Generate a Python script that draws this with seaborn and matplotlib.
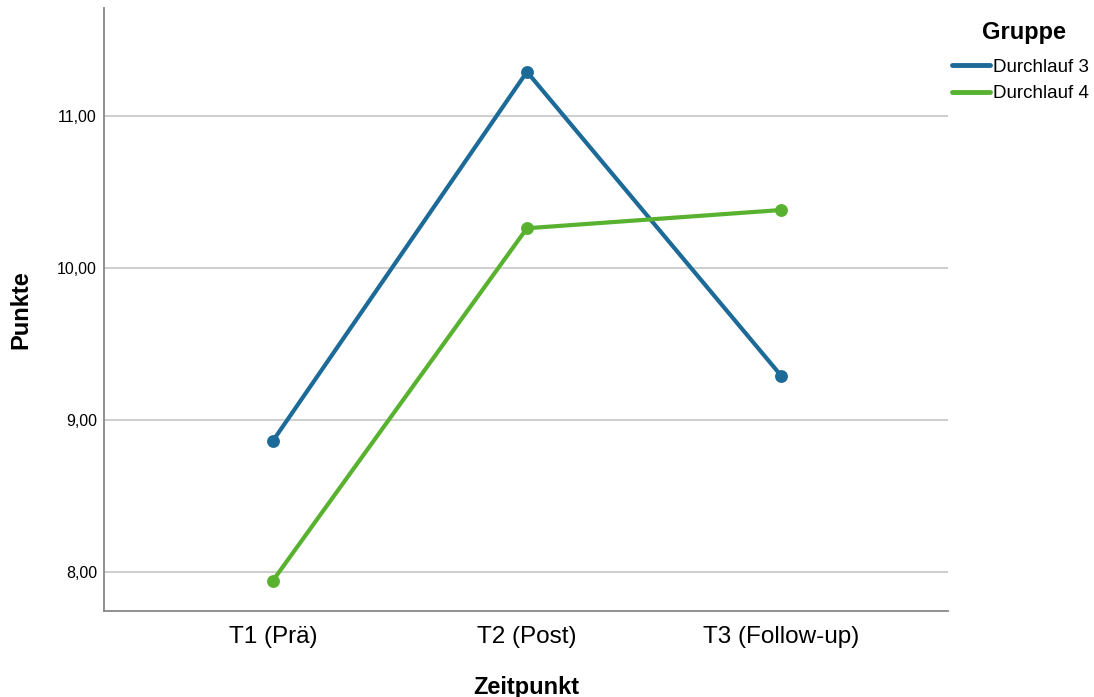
import numpy as np
import pandas as pd
import matplotlib
matplotlib.use('Agg')
import matplotlib.pyplot as plt
import seaborn as sns
from matplotlib.lines import Line2D

# data
zeitpunkte = ['T1 (Prä)', 'T2 (Post)', 'T3 (Follow-up)']
gruppen = ['Durchlauf 3', 'Durchlauf 4']
durchlauf3 = [8.86, 11.29, 9.29]
durchlauf4 = [7.94, 10.26, 10.38]
farben = ['#1c6a98', '#58b22f']

df = pd.DataFrame({
    'Zeitpunkt': zeitpunkte * 2,
    'Punkte': durchlauf3 + durchlauf4,
    'Gruppe': [gruppen[0]] * 3 + [gruppen[1]] * 3,
})

sns.set_style('white', {'text.color': 'black', 'axes.labelcolor': 'black',
                        'xtick.color': 'black', 'ytick.color': 'black'})
plt.rcParams['font.family'] = ['Liberation Sans', 'DejaVu Sans']

fig = plt.figure(figsize=(10.94, 6.97), dpi=100)
ax = fig.add_axes([0.095, 0.1234, 0.7715, 0.8651])

sns.pointplot(data=df, x='Zeitpunkt', y='Punkte', hue='Gruppe', order=zeitpunkte,
              hue_order=gruppen, palette=farben, errorbar=None, markers='o',
              linewidth=3, markersize=7, ax=ax, legend=False)

ax.set_xlim(-0.665, 2.657)
ax.set_ylim(7.74, 11.71)
ax.set_yticks([8, 9, 10, 11])
ax.set_yticklabels(['8,00', '9,00', '10,00', '11,00'], fontsize=11.5)
ax.tick_params(axis='x', labelsize=17.5, length=0, pad=11)
ax.tick_params(axis='y', length=0, pad=5)
ax.yaxis.grid(True, color='#d0d0d0', linewidth=1.5)
ax.set_axisbelow(True)

for s in ['top', 'right']:
    ax.spines[s].set_visible(False)
for s in ['left', 'bottom']:
    ax.spines[s].set_color('#888888')
    ax.spines[s].set_linewidth(1.3)

ax.set_xlabel('Zeitpunkt', fontsize=17, fontweight='bold', labelpad=20)
ax.set_ylabel('Punkte', fontsize=17, fontweight='bold', labelpad=18)

# legend: title as separate text, entries below
fig.text(1024 / 1094, 1 - 32 / 697, 'Gruppe', fontsize=17, fontweight='bold',
         ha='center', va='center')
handles = [Line2D([], [], color=c, linewidth=3.5) for c in farben]
fig.legend(handles, gruppen, loc='center left',
           bbox_to_anchor=(952 / 1094, 1 - 80.5 / 697), frameon=False, fontsize=13.5,
           handlelength=2.0, handletextpad=0.2, labelspacing=0.5,
           borderaxespad=0, borderpad=0)

fig.savefig('out.png', dpi=100)
